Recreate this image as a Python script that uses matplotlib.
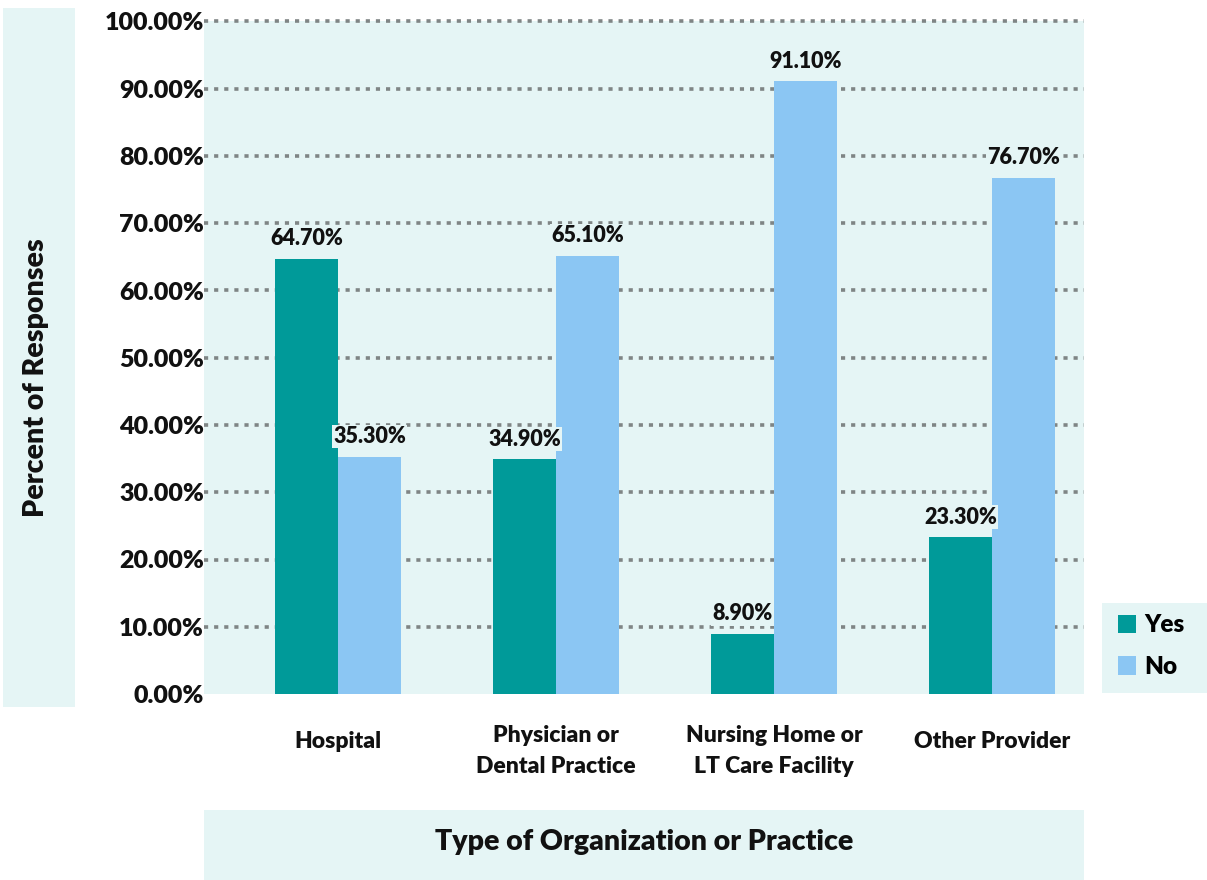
import numpy as np
import matplotlib
matplotlib.use("Agg")
import matplotlib.pyplot as plt
from matplotlib.patches import Rectangle

plt.rcParams['font.family'] = ['Lato', 'DejaVu Sans']
plt.rcParams['font.weight'] = 'heavy'

# data ----------------------------------------
categories = ["Hospital", "Physician or\nDental Practice",
              "Nursing Home or\nLT Care Facility", "Other Provider"]
yes_vals = [64.7, 34.9, 8.9, 23.3]
no_vals = [35.3, 65.1, 91.1, 76.7]
series_names = ["Yes", "No"]
yticks = [0, 10, 20, 30, 40, 50, 60, 70, 80, 90, 100]

teal = "#009A99"
light = "#8BC6F3"
bg = "#E5F5F5"
grid = "#7F8585"

W, H = 1207, 880
fig = plt.figure(figsize=(W / 100, H / 100), dpi=100)
fig.patch.set_facecolor("white")

# plot area in pixels
left, right, top, bottom = 204, 1084, 21.5, 694
ax = fig.add_axes([left / W, (H - bottom) / H, (right - left) / W, (bottom - top) / H])
ax.set_facecolor(bg)

x = np.arange(len(categories))
bw = 63 / 218
ax.set_xlim(-134 / 218, 3 + 92 / 218)
ax.set_ylim(0, 100)

for yv in yticks[1:]:
    ax.axhline(yv, color=grid, lw=2.6, ls=(0, (1.15, 1.65)), zorder=1, clip_on=False)

b1 = ax.bar(x - bw / 2, yes_vals, bw, color=teal, zorder=2, label=series_names[0])
b2 = ax.bar(x + bw / 2, no_vals, bw, color=light, zorder=2, label=series_names[1])

for bars, vals in [(b1, yes_vals), (b2, no_vals)]:
    for r, v in zip(bars, vals):
        ax.annotate("%.2f%%" % v, (r.get_x() + r.get_width() / 2, v),
                    xytext=(0, 7), textcoords="offset points",
                    ha="center", va="bottom", fontsize=15.5, color="#111111",
                    bbox=dict(facecolor=bg, edgecolor="none", pad=1.0), zorder=3)

for s in ax.spines.values():
    s.set_visible(False)
ax.set_yticks(yticks)
ax.set_yticklabels(["%.2f%%" % v for v in yticks], fontsize=18, color="#111111")
ax.tick_params(axis="y", length=0, pad=0)
ax.set_xticks([])

# category labels
for xi, c in zip(x, categories):
    ypix = 751 if "\n" in c else 741
    ax.text(xi, -(ypix - bottom) / (bottom - top) * 100, c, ha="center", va="center",
            fontsize=16.5, linespacing=1.6, color="#111111", clip_on=False)

# y label box
fig.add_artist(Rectangle((3 / W, (H - 707) / H), 72 / W, 699 / H,
                         transform=fig.transFigure, facecolor=bg, edgecolor="none", zorder=0))
fig.text(36 / W, (H - 378) / H, "Percent of Responses", rotation=90,
         ha="center", va="center", fontsize=20.5, color="#111111")

# x label box
fig.add_artist(Rectangle((left / W, 0), (right - left) / W, 70 / H,
                         transform=fig.transFigure, facecolor=bg, edgecolor="none", zorder=0))
fig.text((left + right) / 2 / W, (H - 842) / H, "Type of Organization or Practice",
         ha="center", va="center", fontsize=20.5, color="#111111")

# legend
fig.add_artist(Rectangle((1102 / W, (H - 693) / H), 105 / W, 90 / H,
                         transform=fig.transFigure, facecolor=bg, edgecolor="none", zorder=0))
leg = fig.legend(handles=[b1, b2], loc="center left",
                 bbox_to_anchor=(1108 / W, (H - 646) / H), frameon=False,
                 fontsize=17.5, handlelength=0.75, handleheight=0.8,
                 handletextpad=0.35, labelspacing=0.8, borderaxespad=0)

fig.savefig("out.png", dpi=100)
